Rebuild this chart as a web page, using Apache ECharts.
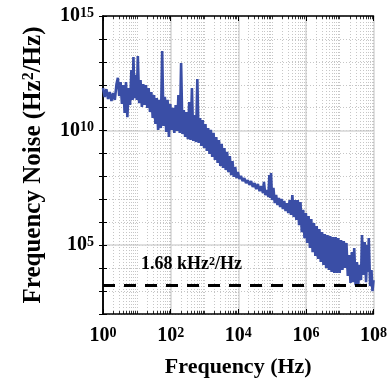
<!DOCTYPE html>
<html>
<head>
<meta charset="utf-8">
<script src="https://cdn.jsdelivr.net/npm/echarts@6/dist/echarts.min.js"></script>
<style>
  html, body { margin: 0; padding: 0; background: #fff; }
  #chart { width: 390px; height: 383px; }
</style>
</head>
<body>
<div id="chart"></div>
<script>
// log10 of frequency (Hz)
var logFreq = [
  0.00, 0.05, 0.10, 0.15, 0.20, 0.25, 0.30, 0.35, 0.40, 0.44, 0.48, 0.52, 0.56, 0.60, 0.64, 0.68,
  0.72, 0.76, 0.80, 0.84, 0.88, 0.90, 0.93, 0.97, 1.00, 1.03, 1.07, 1.11, 1.15, 1.19, 1.23, 1.27,
  1.31, 1.35, 1.39, 1.43, 1.47, 1.51, 1.55, 1.59, 1.63, 1.67, 1.71, 1.75, 1.79, 1.83, 1.87, 1.91,
  1.95, 1.99, 2.03, 2.07, 2.11, 2.15, 2.19, 2.23, 2.27, 2.31, 2.35, 2.39, 2.43, 2.47, 2.51, 2.55,
  2.59, 2.63, 2.67, 2.71, 2.75, 2.79, 2.83, 2.87, 2.91, 2.95, 2.99, 3.03, 3.07, 3.11, 3.15, 3.19,
  3.23, 3.27, 3.31, 3.35, 3.39, 3.43, 3.47, 3.51, 3.55, 3.59, 3.63, 3.67, 3.71, 3.75, 3.79, 3.83,
  3.87, 3.91, 3.95, 3.99, 4.03, 4.08, 4.13, 4.18, 4.23, 4.28, 4.33, 4.38, 4.43, 4.48, 4.53, 4.58,
  4.63, 4.68, 4.73, 4.76, 4.80, 4.85, 4.89, 4.92, 4.95, 4.97, 5.00, 5.04, 5.08, 5.12, 5.16, 5.20,
  5.24, 5.28, 5.32, 5.36, 5.40, 5.44, 5.48, 5.52, 5.56, 5.60, 5.64, 5.68, 5.72, 5.76, 5.80, 5.84,
  5.88, 5.92, 5.96, 6.00, 6.04, 6.08, 6.12, 6.16, 6.20, 6.24, 6.28, 6.32, 6.36, 6.40, 6.44, 6.48,
  6.52, 6.56, 6.60, 6.64, 6.68, 6.72, 6.76, 6.80, 6.84, 6.88, 6.92, 6.96, 7.00, 7.04, 7.08, 7.12,
  7.16, 7.20, 7.24, 7.28, 7.32, 7.36, 7.40, 7.43, 7.47, 7.51, 7.55, 7.59, 7.63, 7.66, 7.70, 7.74,
  7.78, 7.82, 7.84, 7.86, 7.90, 7.94, 7.97, 8.00
];
// log10 of frequency noise (Hz^2/Hz)
var logNoise = [
  11.86, 11.47, 11.81, 11.38, 11.68, 11.29, 11.64, 11.34, 12.03, 12.30, 11.51, 12.12, 11.16, 11.99, 10.77, 12.12,
  10.59, 11.86, 11.12, 12.64, 11.34, 13.21, 11.42, 12.43, 11.34, 13.25, 11.20, 12.21, 11.03, 12.03, 11.12, 11.99,
  10.99, 11.86, 10.81, 11.68, 10.55, 11.55, 10.29, 11.42, 10.03, 11.34, 10.11, 13.47, 10.20, 11.47, 9.94, 11.34,
  9.72, 11.16, 10.03, 10.99, 9.90, 11.12, 9.99, 11.55, 9.90, 12.95, 9.85, 10.90, 9.72, 10.81, 9.63, 11.25,
  9.59, 11.86, 9.55, 10.68, 9.50, 12.25, 9.46, 10.55, 9.33, 10.46, 9.24, 10.29, 9.11, 10.11, 8.98, 10.03,
  8.85, 9.90, 8.72, 9.72, 8.59, 9.59, 8.46, 9.42, 8.37, 9.24, 8.28, 9.07, 8.19, 8.89, 8.06, 8.67,
  7.98, 8.41, 7.93, 8.19, 7.89, 8.02, 7.80, 7.93, 7.71, 7.84, 7.63, 7.80, 7.54, 7.71, 7.45, 7.67,
  7.36, 7.58, 7.28, 7.76, 7.19, 7.41, 7.10, 8.06, 7.06, 8.15, 6.97, 7.50, 6.84, 7.19, 6.75, 7.06,
  6.67, 7.02, 6.58, 6.93, 6.49, 6.84, 6.40, 6.97, 6.32, 7.19, 6.23, 6.97, 6.10, 6.97, 5.88, 6.88,
  5.57, 6.54, 5.31, 6.40, 5.10, 6.27, 4.88, 6.14, 4.70, 5.97, 4.53, 5.84, 4.40, 5.71, 4.27, 5.57,
  4.14, 5.49, 4.01, 5.44, 3.92, 5.40, 3.83, 5.36, 3.79, 5.36, 3.79, 5.31, 3.79, 5.23, 3.92, 5.18,
  4.01, 5.10, 3.66, 4.57, 3.35, 4.70, 3.39, 4.88, 3.26, 4.27, 3.30, 4.14, 3.48, 5.44, 3.70, 5.14,
  3.39, 5.01, 3.83, 5.31, 3.22, 3.92, 3.00, 3.48
];
var thresholdLog = 3.26;            // dashed level
var thresholdText = ['1.68 kHz', '2', '/Hz'];
var thresholdLabelAt = [2.62, 4.15];
var xLabelExps = [0, 2, 4, 6, 8];
var yLabelExps = [5, 10, 15];

var serif = 'Liberation Serif';
var blue = '#3a4ea6';

// minor log ticks 1..9 x 10^n
var minorX = [];
for (var n = 0; n < 8; n++) {
    for (var k = 1; k <= 9; k++) {
        minorX.push(n + Math.log10(k));
    }
}
minorX.push(8);

var expRich = {
    b: { fontFamily: serif, fontWeight: 'bold', fontSize: 20, color: '#000' },
    s: { fontFamily: serif, fontWeight: 'bold', fontSize: 14, color: '#000', verticalAlign: 'top' }
};

var curve = [];
for (var i = 0; i < logFreq.length; i++) {
    curve.push([logFreq[i], logNoise[i]]);
}

var chart = echarts.init(document.getElementById('chart'));
var option = {
    animation: false,
    backgroundColor: '#fff',
    grid: { left: 103, right: 15, top: 16, bottom: 69 },
    xAxis: [
        {
            type: 'value', min: 0, max: 8, interval: 2, position: 'bottom',
            axisLine: { show: true, lineStyle: { color: '#000', width: 1.5 } },
            axisTick: { show: true, inside: true, length: 5, lineStyle: { color: '#000', width: 1 } },
            axisLabel: {
                margin: 12,
                formatter: function (v) { return xLabelExps.indexOf(v) >= 0 ? '{b|10}{s|' + v + '}' : ''; },
                rich: expRich
            },
            splitLine: { show: true, lineStyle: { color: '#d6d6d6', width: 1.5 } },
            name: 'Frequency (Hz)', nameLocation: 'middle', nameGap: 42,
            nameTextStyle: { fontFamily: serif, fontWeight: 'bold', fontSize: 22, color: '#000' }
        },
        {
            type: 'value', min: 0, max: 8, position: 'bottom',
            axisLine: { show: false },
            axisTick: { show: true, inside: true, length: 3, customValues: minorX, lineStyle: { color: '#000', width: 0.8 } },
            axisLabel: { show: false },
            splitLine: { show: true, lineStyle: { color: '#b8b8b8', width: 0.8, type: [1, 2] } }
        },
        {
            type: 'value', min: 0, max: 8, position: 'top',
            axisLine: { show: true, lineStyle: { color: '#000', width: 1.5 } },
            axisTick: { show: true, inside: true, length: 3, customValues: minorX, lineStyle: { color: '#000', width: 0.8 } },
            axisLabel: { show: false },
            splitLine: { show: false }
        },
        {
            type: 'value', min: 0, max: 8, interval: 2, position: 'top',
            axisLine: { show: false },
            axisTick: { show: true, inside: true, length: 5, lineStyle: { color: '#000', width: 1 } },
            axisLabel: { show: false },
            splitLine: { show: false }
        }
    ],
    yAxis: [
        {
            type: 'value', min: 2, max: 15, interval: 1, position: 'left',
            axisLine: { show: true, lineStyle: { color: '#000', width: 1.5 } },
            axisTick: { show: true, inside: true, length: 4, lineStyle: { color: '#000', width: 1 } },
            axisLabel: {
                margin: 9,
                formatter: function (v) { return yLabelExps.indexOf(v) >= 0 ? '{b|10}{s|' + v + '}' : ''; },
                rich: expRich
            },
            splitLine: { show: true, lineStyle: { color: '#b8b8b8', width: 0.8, type: [1, 2] } },
            name: '{a|Frequency Noise (Hz}{s|2}{a|/Hz)}', nameLocation: 'middle', nameGap: 57,
            nameTextStyle: {
                rich: {
                    a: { fontFamily: serif, fontWeight: 'bold', fontSize: 25, color: '#000' },
                    s: { fontFamily: serif, fontWeight: 'bold', fontSize: 16, color: '#000', verticalAlign: 'top' }
                }
            }
        },
        {
            type: 'value', min: 2, max: 15, interval: 1, position: 'right',
            axisLine: { show: true, lineStyle: { color: '#000', width: 1.5 } },
            axisTick: { show: true, inside: true, length: 4, lineStyle: { color: '#000', width: 1 } },
            axisLabel: { show: false },
            splitLine: { show: false }
        },
        {
            type: 'value', min: 2, max: 15, position: 'left',
            axisLine: { show: false },
            axisTick: { show: false, customValues: yLabelExps },
            axisLabel: { show: false },
            splitLine: { show: true, lineStyle: { color: '#d6d6d6', width: 1.5 } }
        }
    ],
    series: [
        {
            name: 'noise', type: 'line', xAxisIndex: 0, yAxisIndex: 0,
            data: curve, showSymbol: false, symbol: 'none',
            lineStyle: { color: blue, width: 2.6, join: 'miter', miterLimit: 2 },
            markLine: {
                silent: true, symbol: 'none',
                label: { show: false },
                lineStyle: { color: '#000', width: 3, type: [12, 9] },
                data: [{ yAxis: thresholdLog }]
            },
            z: 3
        },
        {
            name: 'label', type: 'scatter', xAxisIndex: 0, yAxisIndex: 0,
            symbolSize: 0, silent: true,
            itemStyle: { opacity: 1 },
            data: [thresholdLabelAt],
            label: {
                show: true, position: 'inside', color: '#000',
                formatter: '{a|' + thresholdText[0] + '}{s|' + thresholdText[1] + '}{a|' + thresholdText[2] + '}',
                rich: {
                    a: { fontFamily: serif, fontWeight: 'bold', fontSize: 18, color: '#000' },
                    s: { fontFamily: serif, fontWeight: 'bold', fontSize: 12, color: '#000', verticalAlign: 'top' }
                }
            },
            z: 4
        }
    ]
};
chart.setOption(option);
</script>
</body>
</html>
